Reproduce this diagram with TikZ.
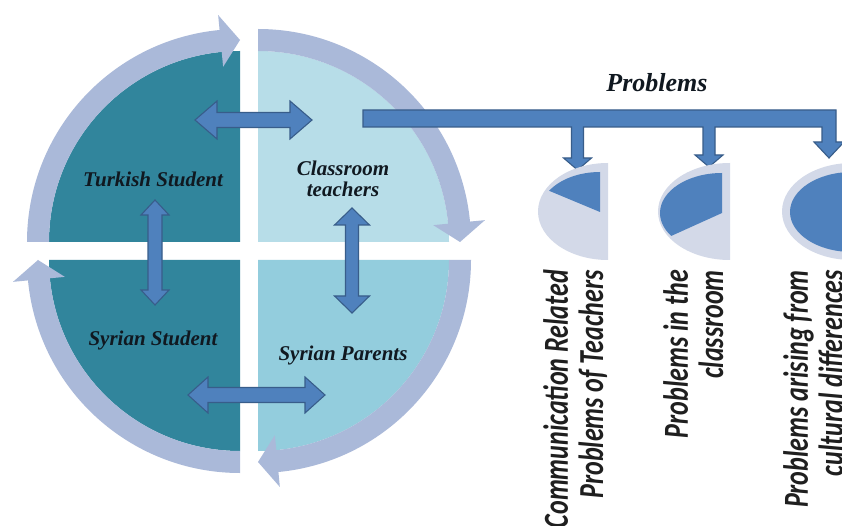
\documentclass[tikz,border=0pt]{standalone}
\usepackage{fontspec}
\setmainfont{Liberation Serif}
\newfontfamily\labfont{Carlito}
\definecolor{ringc}{HTML}{AAB9D9}
\definecolor{darkq}{HTML}{31859C}
\definecolor{trq}{HTML}{B7DDE8}
\definecolor{brq}{HTML}{93CDDD}
\definecolor{arrfill}{HTML}{4F81BD}
\definecolor{arrdraw}{HTML}{385D8A}
\definecolor{pielight}{HTML}{D3D9E8}
\definecolor{txtc}{HTML}{101820}
\tikzset{
  dbl/.style={fill=arrfill, draw=arrdraw, line width=1.1pt, line join=miter},
  quadlab/.style={font=\bfseries\itshape\fontsize{21}{21}\selectfont, text=txtc, inner sep=0pt, align=center},
  lab/.style={rotate=90, yscale=1.35, align=right, inner sep=0pt, text=black!88,
    font=\labfont\bfseries\itshape\fontsize{26}{26}\selectfont},
}
% ring arc: cx cy startangle endangle headbackangle
\newcommand\ringarc[5]{%
  \begin{scope}[shift={(#1,#2)}]
    \fill[ringc] (#3:191pt) arc[start angle=#3, end angle=#5, radius=191pt]
      -- (#5:176pt) -- (#4:202pt) -- (#5:228pt) -- (#5:213pt)
      arc[start angle=#5, end angle=#3, radius=213pt] -- cycle;
  \end{scope}}
% double arrow: name cx cy rot halflen shafthalf headhalf headlen
\newcommand\dblarr[8]{%
  \begin{scope}[shift={(#2,#3)}, rotate=#4]
    \coordinate (#1) at (0,0);
    \draw[dbl] (-#5,0) -- ({-#5+#8},#7) -- ({-#5+#8},#6) -- ({#5-#8},#6) -- ({#5-#8},#7)
      -- (#5,0) -- ({#5-#8},-#7) -- ({#5-#8},-#6) -- ({-#5+#8},-#6) -- ({-#5+#8},-#7) -- cycle;
  \end{scope}}
\begin{document}
\begin{tikzpicture}[x=1pt,y=1pt]
\useasboundingbox (0,0) rectangle (842,525);
\fill[white] (0,0) rectangle (842,525);
\clip (0,0) rectangle (842,525);
% quadrants
\fill[darkq] (240,283) -- (240,474) arc[start angle=90,end angle=180,radius=191pt] -- cycle;
\fill[trq] (258,283) -- (449,283) arc[start angle=0,end angle=90,radius=191pt] -- cycle;
\fill[brq] (258,265) -- (258,74) arc[start angle=-90,end angle=0,radius=191pt] -- cycle;
\fill[darkq] (240,265) -- (49,265) arc[start angle=180,end angle=270,radius=191pt] -- cycle;
% ring arrows
\ringarc{240}{283}{180}{90}{95.5}
\ringarc{258}{283}{90}{0}{5.5}
\ringarc{258}{265}{0}{-90}{-84.5}
\ringarc{240}{265}{-90}{-180}{-174.5}
% double arrows
\dblarr{ta}{253.5}{405}{0}{58.5}{7.5}{19}{22}
\dblarr{la}{155}{272.5}{90}{52.5}{7}{14}{15}
\dblarr{ra}{352}{264.5}{90}{52.5}{6.5}{17.5}{17}
\dblarr{ba}{256.5}{130}{0}{68.5}{7.5}{18}{20}
% quadrant labels
\node[quadlab, anchor=base] (turk) at (153,338) {Turkish Student};
\node[quadlab] (teach) at (343,346) {Classroom\\teachers};
\node[quadlab, anchor=base] (syrs) at (153,180) {Syrian Student};
\node[quadlab, anchor=base] (syrp) at (343,165) {Syrian Parents};
% problems header
\node[font=\bfseries\itshape\fontsize{26}{26}\selectfont, text=txtc, inner sep=0pt, anchor=base] (prob) at (657,433) {Problems};
% branching bar
\coordinate (barstart) at (363,406.5);
\draw[dbl] (barstart) ++(0,8.5) -- (836,415) -- (836,383) -- (844,383) -- (829,367) -- (814,383)
  -- (822,383) -- (822,398) -- (715,398) -- (715,370) -- (723,370) -- (709,358) -- (695,370)
  -- (703,370) -- (703,398) -- (583.5,398) -- (583.5,367) -- (591.5,367) -- (577.5,355)
  -- (563.5,367) -- (571.5,367) -- (571.5,398) -- (363,398) -- cycle;
% pies
\fill[pielight] (608,362) arc[start angle=90,end angle=270,x radius=70pt,y radius=48.5pt] -- cycle;
\fill[arrfill] (600,313) -- (600,353) arc[start angle=90,end angle=148,x radius=60pt,y radius=40pt] -- cycle;
\fill[pielight] (730,362) arc[start angle=90,end angle=270,x radius=72pt,y radius=48.5pt] -- cycle;
\fill[arrfill] (722,312) -- (722,352) arc[start angle=90,end angle=215,x radius=62pt,y radius=40pt] -- cycle;
\fill[pielight] (852,313.5) ellipse[x radius=70pt,y radius=48.5pt];
\fill[arrfill] (852,353) arc[start angle=90,end angle=270,x radius=62pt,y radius=40pt] -- cycle;
% rotated labels
\node[lab, anchor=north east] (l1) at (543,255) {Communication Related\\Problems of Teachers};
\node[lab, anchor=north east] (l2) at (663,255) {Problems in the\\classroom};
\node[lab, anchor=north east] (l3) at (783,255) {Problems arising from\\cultural differences};
\end{tikzpicture}
\end{document}
